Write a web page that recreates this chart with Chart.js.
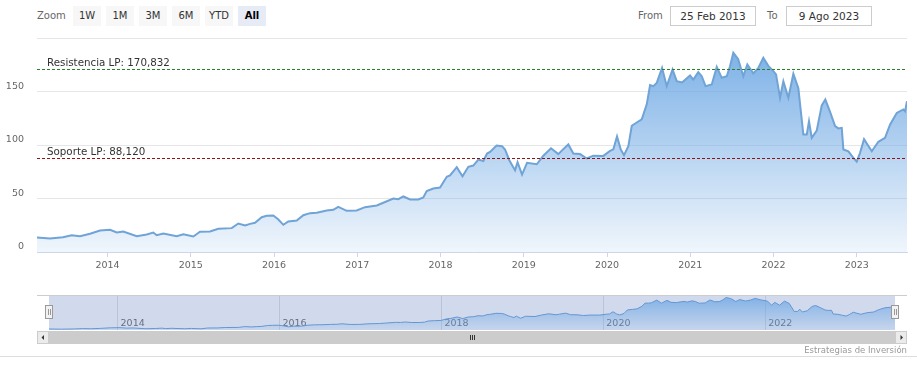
<!DOCTYPE html>
<html><head><meta charset="utf-8">
<script src="https://cdn.jsdelivr.net/npm/chart.js@4.4.0/dist/chart.umd.min.js"></script>
<style>
body{margin:0;width:917px;height:370px;background:#fff;font-family:"DejaVu Sans",sans-serif;overflow:hidden;position:relative}
#main{position:absolute;left:0;top:0}
#nav{position:absolute;left:0;top:285px}
.lbl{position:absolute;top:6px;font-size:10px;color:#666;line-height:20px}
.btn{position:absolute;top:6px;width:28px;height:20px;background:#f7f7f7;color:#333;font-size:10px;text-align:center;line-height:20px}
.btn.sel{background:#e6ebf5;font-weight:bold;color:#000}
.inp{position:absolute;top:6px;width:84px;height:18px;border:1px solid #ccc;font-size:10.5px;color:#333;text-align:center;line-height:18px}
#credits{position:absolute;right:10px;top:344px;font-size:8.5px;color:#999;line-height:12px}
#bline{position:absolute;left:0;top:356px;width:917px;height:1px;background:#ddd}
</style></head>
<body>
<div class="lbl" style="left:37px">Zoom</div>
<div class="btn" style="left:73px">1W</div>
<div class="btn" style="left:106px">1M</div>
<div class="btn" style="left:139px">3M</div>
<div class="btn" style="left:172px">6M</div>
<div class="btn" style="left:205px">YTD</div>
<div class="btn sel" style="left:238px">All</div>
<div class="lbl" style="left:638px">From</div>
<div class="inp" style="left:670px">25 Feb 2013</div>
<div class="lbl" style="left:767px">To</div>
<div class="inp" style="left:786px">9 Ago 2023</div>
<canvas id="main" width="917" height="284"></canvas>
<canvas id="nav" width="917" height="65"></canvas>
<div id="credits">Estrategias de Inversión</div>
<div id="bline"></div>
<script>
// x positions as fractional years (25 Feb 2013 .. 9 Aug 2023)
const dates = [2013.153,2013.309,2013.465,2013.570,2013.670,2013.790,2013.910,2014.030,2014.111,2014.190,
2014.351,2014.471,2014.550,2014.591,2014.670,2014.831,2014.911,2015.031,2015.111,2015.231,
2015.331,2015.492,2015.571,2015.652,2015.712,2015.772,2015.852,2015.912,2015.992,2016.052,
2016.112,2016.172,2016.273,2016.352,2016.432,2016.513,2016.633,2016.712,2016.772,2016.873,
2016.993,2017.093,2017.234,2017.313,2017.433,2017.493,2017.553,2017.634,2017.733,2017.793,
2017.834,2017.913,2017.994,2018.075,2018.114,2018.195,2018.264,2018.334,2018.394,2018.454,
2018.514,2018.559,2018.595,2018.673,2018.739,2018.775,2018.826,2018.855,2018.895,2018.925,
2018.979,2019.039,2019.156,2019.235,2019.327,2019.415,2019.459,2019.535,2019.595,2019.676,
2019.756,2019.835,2019.956,2020.036,2020.076,2020.120,2020.165,2020.204,2020.256,2020.297,
2020.357,2020.417,2020.477,2020.517,2020.556,2020.597,2020.661,2020.717,2020.787,2020.837,
2020.901,2020.997,2021.036,2021.096,2021.138,2021.183,2021.258,2021.318,2021.378,2021.438,
2021.477,2021.517,2021.574,2021.637,2021.685,2021.757,2021.817,2021.877,2021.937,2021.998,
2022.030,2022.078,2022.118,2022.178,2022.238,2022.298,2022.358,2022.399,2022.426,2022.459,
2022.519,2022.579,2022.622,2022.679,2022.739,2022.778,2022.819,2022.839,2022.899,2022.959,
2022.999,2023.039,2023.087,2023.180,2023.259,2023.339,2023.399,2023.480,2023.559,2023.580,2023.603];
const prices = [13.5,12.6,13.8,15.7,14.8,17.0,20.0,20.7,18.2,19.2,
14.8,16.4,18.2,15.7,17.3,14.8,16.6,14.5,18.9,19.2,
21.7,22.3,26.6,24.8,26.3,27.3,32.5,33.8,34.1,30.4,
25.4,28.5,29.4,34.4,36.3,36.6,38.8,39.4,42.2,38.5,
38.8,41.9,43.5,46.0,50.0,49.4,51.9,49.1,49.1,51.0,
57.0,59.3,60.3,70.3,71.5,79.3,70.8,79.6,80.8,86.4,
85.0,92.0,93.6,99.5,98.9,95.8,85.8,81.8,76.4,84.0,
72.4,83.4,82.0,90.0,97.0,91.5,95.0,100.5,92.0,91.5,
87.4,90.0,89.8,94.5,96.0,108.0,95.8,90.5,98.9,118.0,
121.0,124.0,138.0,156.0,155.0,158.0,172.0,155.0,170.6,159.7,
158.5,165.0,161.2,168.0,164.3,155.0,156.5,173.0,162.8,164.3,
173.6,186.2,180.5,164.3,175.2,167.0,172.0,181.5,174.0,169.0,
166.0,144.1,159.5,144.1,166.5,153.0,109.8,109.8,122.2,106.7,
113.5,137.0,142.5,131.0,117.6,115.5,116.0,95.8,94.0,88.0,
84.4,92.7,105.5,94.2,103.0,106.7,119.0,130.0,133.2,131.6,141.0];
const yearTicks = [2014,2015,2016,2017,2018,2019,2020,2021,2022,2023];
const yearLabels = ['2014','2015','2016','2017','2018','2019','2020','2021','2022','2023'];
const navYearTicks = [2014,2016,2018,2020,2022];
const navYearLabels = ['2014','2016','2018','2020','2022'];
const yTicks = [0,50,100,150,200];
const yTickLabels = ['0','50','100','150',''];
const resistanceLevel = 170.832;
const supportLevel = 88.12;
const resistanceName = 'Resistencia LP';
const supportName = 'Soporte LP';

const X_MIN = 2013.153, X_MAX = 2023.603;
const FONT = '"DejaVu Sans", sans-serif';
const fmt = v => v.toFixed(3).replace('.', ',');
const points = dates.map((d,i)=>({x:d,y:prices[i]}));

function grad(alphaTop, alphaBot){
  return (c)=>{
    const ch=c.chart, a=ch.chartArea;
    if(!a) return 'rgba(110,168,228,0.5)';
    const g=ch.ctx.createLinearGradient(0,a.top,0,a.bottom);
    g.addColorStop(0,'rgba(110,168,228,'+alphaTop+')');
    g.addColorStop(1,'rgba(110,168,228,'+alphaBot+')');
    return g;
  };
}

const plotLines = {
  id:'plotLines',
  afterDatasetsDraw(chart){
    const {ctx, chartArea:a, scales:{y}} = chart;
    const lines = [
      {v:resistanceLevel, name:resistanceName, col:'rgb(40,130,40)'},
      {v:supportLevel, name:supportName, col:'rgb(140,20,20)'}
    ];
    ctx.save();
    lines.forEach(l=>{
      const py = Math.round(y.getPixelForValue(l.v))+0.5;
      ctx.strokeStyle=l.col; ctx.lineWidth=1; ctx.setLineDash([3,2]);
      ctx.beginPath(); ctx.moveTo(a.left,py); ctx.lineTo(a.right,py); ctx.stroke();
      ctx.setLineDash([]);
      ctx.fillStyle='#333'; ctx.font='10.3px '+FONT; ctx.textBaseline='alphabetic'; ctx.textAlign='left';
      ctx.fillText(l.name+': '+fmt(l.v), a.left+10, py-3.5);
    });
    ctx.restore();
  }
};

new Chart(document.getElementById('main'), {
  type:'line',
  data:{datasets:[{data:points, borderColor:'rgb(112,163,214)', borderWidth:2, pointRadius:0, tension:0,
    fill:'origin', backgroundColor:grad(0.95,0.1)}]},
  options:{
    responsive:false, animation:false, events:[],
    layout:{padding:{top:38,right:10,left:0,bottom:0}},
    plugins:{legend:{display:false},tooltip:{enabled:false}},
    scales:{
      x:{type:'linear', min:X_MIN, max:X_MAX,
        afterBuildTicks:s=>{s.ticks=yearTicks.map(v=>({value:v}));},
        afterFit:s=>{s.height=32;},
        ticks:{callback:(v,i)=>yearLabels[i], color:'#666', font:{family:FONT,size:9.5}, padding:3, maxRotation:0, autoSkip:false},
        grid:{drawOnChartArea:false, drawTicks:true, tickLength:5, color:'#ccd6eb'},
        border:{color:'#ccd6eb'}},
      y:{min:0,max:200,
        afterBuildTicks:s=>{s.ticks=yTicks.map(v=>({value:v}));},
        afterFit:s=>{s.width=37;},
        ticks:{callback:(v,i)=>yTickLabels[i], color:'#666', font:{family:FONT,size:9.5}, padding:13, labelOffset:-5},
        grid:{color:'#e6e6e6', drawTicks:false},
        border:{display:false}}
    }
  },
  plugins:[plotLines]
});

const navDeco = {
  id:'navDeco',
  beforeDatasetsDraw(chart){
    const {ctx, chartArea:a, scales:{x}} = chart;
    ctx.save();
    ctx.fillStyle='#666'; ctx.font='9.5px '+FONT; ctx.textAlign='left'; ctx.textBaseline='middle';
    navYearTicks.forEach((v,i)=>{ ctx.fillText(navYearLabels[i], x.getPixelForValue(v)+3, a.bottom-6); });
    ctx.fillStyle='rgba(102,133,194,0.3)';
    ctx.fillRect(a.left, a.top, a.right-a.left, a.bottom-a.top); ctx.restore();
  },
  afterDraw(chart){
    const {ctx, chartArea:a} = chart;
    ctx.save();
    ctx.strokeStyle='#cccccc'; ctx.lineWidth=1;
    ctx.beginPath(); ctx.moveTo(37,a.top+0.5); ctx.lineTo(907,a.top+0.5); ctx.stroke();
    const sy=a.bottom+1, sh=13;
    ctx.fillStyle='#f2f2f2'; ctx.fillRect(37,sy,870,sh);
    ctx.fillStyle='#cccccc'; ctx.fillRect(a.left,sy,a.right-a.left,sh);
    ctx.fillStyle='#ebebeb'; ctx.strokeStyle='#cccccc';
    ctx.fillRect(37,sy,12,sh); ctx.strokeRect(37.5,sy+0.5,11,sh-1);
    ctx.fillRect(a.right,sy,12,sh); ctx.strokeRect(a.right+0.5,sy+0.5,11,sh-1);
    ctx.fillStyle='#333';
    const cy=sy+sh/2;
    ctx.beginPath(); ctx.moveTo(41.5,cy); ctx.lineTo(44,cy-2.5); ctx.lineTo(44,cy+2.5); ctx.fill();
    ctx.beginPath(); ctx.moveTo(a.right+8,cy); ctx.lineTo(a.right+5.5,cy-2.5); ctx.lineTo(a.right+5.5,cy+2.5); ctx.fill();
    const gx=Math.round((a.left+a.right)/2);
    ctx.strokeStyle='#333';
    [-2,0,2].forEach(d=>{ctx.beginPath(); ctx.moveTo(gx+d+0.5,cy-2.5); ctx.lineTo(gx+d+0.5,cy+2.5); ctx.stroke();});
    [a.left,a.right].forEach(hx=>{
      const x0=Math.round(hx)-4;
      ctx.fillStyle='#f2f2f2'; ctx.strokeStyle='#999';
      ctx.fillRect(x0+0.5,a.top+10.5,7,13); ctx.strokeRect(x0+0.5,a.top+10.5,7,13);
      ctx.beginPath(); ctx.moveTo(x0+3.5,a.top+14); ctx.lineTo(x0+3.5,a.top+20); ctx.moveTo(x0+5.5,a.top+14); ctx.lineTo(x0+5.5,a.top+20); ctx.stroke();
    });
    ctx.restore();
  }
};

new Chart(document.getElementById('nav'), {
  type:'line',
  data:{datasets:[{data:points, borderColor:'rgb(100,150,210)', borderWidth:1, pointRadius:0, tension:0,
    fill:'origin', backgroundColor:grad(0.85,0.1)}]},
  options:{
    responsive:false, animation:false, events:[],
    layout:{padding:{top:10,right:22,left:49,bottom:20}},
    plugins:{legend:{display:false},tooltip:{enabled:false}},
    scales:{
      x:{type:'linear', min:X_MIN, max:X_MAX,
        afterBuildTicks:s=>{s.ticks=navYearTicks.map(v=>({value:v}));},
        afterFit:s=>{s.height=0;},
        ticks:{display:false},
        grid:{drawOnChartArea:true, drawTicks:false, color:'#e0e0e0'},
        border:{display:false}},
      y:{display:false, min:8, max:200}
    }
  },
  plugins:[navDeco]
});
</script>
</body></html>
